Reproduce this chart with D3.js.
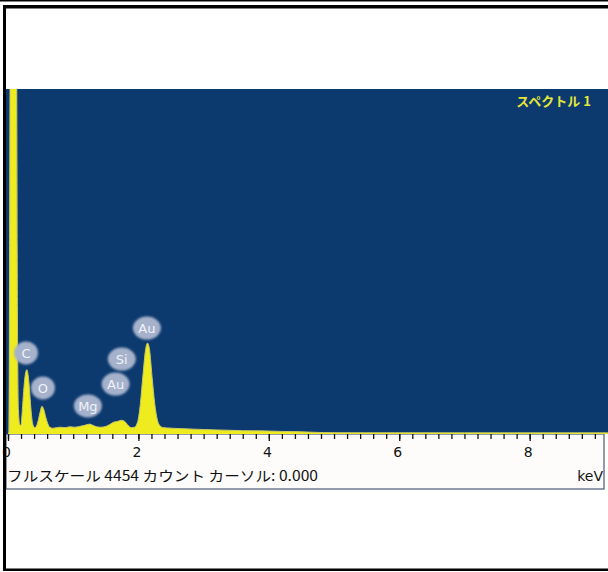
<!DOCTYPE html>
<html><head><meta charset="utf-8">
<script src="https://cdn.jsdelivr.net/npm/d3@7"></script>
<style>body{margin:0;background:#fff;overflow:hidden}svg{display:block}</style>
</head><body><svg id="c" width="608" height="572"></svg>
<script>
// ---- data ----
const energyKeV = [0.00,0.015,0.025,0.035,0.05,0.10,0.13,0.145,0.16,0.18,0.20,0.21,0.23,0.25,0.27,0.29,0.31,0.33,0.35,0.37,0.39,0.41,0.43,0.46,0.49,0.52,0.55,0.58,0.61,0.64,0.68,0.72,0.80,0.88,0.95,1.02,1.10,1.18,1.25,1.30,1.36,1.42,1.50,1.56,1.62,1.68,1.74,1.79,1.84,1.89,1.94,1.99,2.03,2.07,2.11,2.14,2.17,2.21,2.25,2.29,2.33,2.38,2.45,2.55,2.70,2.85,3.00,3.20,3.40,3.60,3.80,4.00,4.20,4.40,4.60,4.80,5.00,5.50,6.00,7.00,8.00,9.20];
const countsSeries = [0,0,2600,5200,5200,5200,5000,1500,300,110,100,180,420,640,780,820,740,560,330,160,90,70,80,150,260,345,300,200,120,75,62,65,75,70,80,75,85,100,115,100,80,75,85,110,140,150,165,150,100,70,75,150,380,750,1080,1165,1080,720,380,170,95,70,65,60,55,50,45,40,35,30,28,25,20,18,12,6,4,3,3,2,2,2];
const peakLabels = ["C","O","Mg","Au","Si","Au"];
const peakEnergy = [0.276,0.536,1.225,1.65,1.745,2.13];
const peakAnchorCounts = [790,337,104,388,712,1113];
const majorTicks = [0,2,4,6,8];
const fullScaleCounts = 4454;
const energyMax = 9.14;
const titleText = "スペクトル 1";
const footerText = "フルスケール 4454 カウント カーソル: 0.000";
const unitText = "keV";

// ---- drawing ----
const svg = d3.select("#c");
const font = "'Noto Sans CJK JP','DejaVu Sans',sans-serif";
const plot = {x0: 6, x1: 604, y0: 89, y1: 434};

const defs = svg.append("defs");
defs.append("filter").attr("id","soft").append("feGaussianBlur").attr("stdDeviation",0.8);
defs.append("clipPath").attr("id","clip").append("rect")
  .attr("x",plot.x0).attr("y",plot.y0).attr("width",608-plot.x0).attr("height",plot.y1-plot.y0);

// outer frame
svg.append("rect").attr("x",0).attr("y",0).attr("width",608).attr("height",1.5).attr("fill","#000");
svg.append("rect").attr("x",3).attr("y",5).attr("width",605).attr("height",3.5).attr("fill","#000");
svg.append("rect").attr("x",3).attr("y",568.5).attr("width",605).attr("height",2.5).attr("fill","#000");

// axis strip
svg.append("rect").attr("x",plot.x0).attr("y",plot.y1).attr("width",plot.x1-plot.x0).attr("height",55)
  .attr("fill","#fdfcfa").attr("stroke","#4a5a78").attr("stroke-width",1.2);

// plot background
svg.append("rect").attr("x",plot.x0).attr("y",plot.y0).attr("width",608-plot.x0).attr("height",plot.y1-plot.y0)
  .attr("fill","#0c3a6e");

const x = d3.scaleLinear().domain([0, energyMax]).range([8, plot.x1]);
const y = d3.scaleLinear().domain([0, fullScaleCounts]).range([plot.y1-1, plot.y0]);

const data = energyKeV.map((e,i)=>({e, c: countsSeries[i]}));
const area = d3.area().x(d=>x(d.e)).y0(plot.y1).y1(d=>y(d.c)).curve(d3.curveMonotoneX);
svg.append("path").datum(data).attr("clip-path","url(#clip)")
  .attr("d", area).attr("fill","#eeec1e");
svg.append("path").datum(data).attr("clip-path","url(#clip)")
  .attr("d", d3.line().x(d=>x(d.e)).y(d=>y(d.c)).curve(d3.curveMonotoneX))
  .attr("fill","none").attr("stroke","#c8c86a").attr("stroke-width",1);

// title
svg.append("text").attr("x",591).attr("y",106).attr("text-anchor","end")
  .attr("font-family",font).attr("font-size",13).attr("font-weight","bold")
  .attr("fill","#e6e63a").text(titleText);

// peak labels
const lab = svg.append("g");
peakLabels.forEach((t,i)=>{
  const px = x(peakEnergy[i]), py = y(peakAnchorCounts[i]);
  const cy = py - 19;
  lab.append("line").attr("x1",px).attr("x2",px).attr("y1",cy).attr("y2",py)
    .attr("stroke","#9eacc8").attr("stroke-width",3).attr("filter","url(#soft)");
  lab.append("ellipse").attr("cx",px).attr("cy",cy).attr("rx", t.length>1?14:12).attr("ry",11.5)
    .attr("fill","#a6b2cc").attr("filter","url(#soft)");
  lab.append("text").attr("x",px).attr("y",cy+5).attr("text-anchor","middle")
    .attr("font-family","'DejaVu Sans',sans-serif").attr("font-size",13).attr("fill","#f0f2f8").text(t);
});

// axis ticks
const minorTicks = d3.range(0, energyMax, 0.2);
const axMinor = d3.axisBottom(x).tickValues(minorTicks).tickSize(5).tickFormat("");
const gMinor = svg.append("g").attr("transform",`translate(0,${plot.y1})`).call(axMinor);
gMinor.select(".domain").remove();
gMinor.selectAll("line").attr("stroke","#111").attr("stroke-width",1.3);
const axMajor = d3.axisBottom(x).tickValues(majorTicks).tickSize(7).tickPadding(6).tickFormat(d3.format("d"));
const gMajor = svg.append("g").attr("transform",`translate(0,${plot.y1})`).call(axMajor);
gMajor.select(".domain").remove();
gMajor.selectAll("line").attr("stroke","#111").attr("stroke-width",1.3);
gMajor.selectAll("text").attr("font-family","'DejaVu Sans',sans-serif").attr("font-size",14)
  .attr("fill","#111").attr("dx",-2);

// left frame on top so "0" is cut like the original
svg.append("rect").attr("x",3).attr("y",5).attr("width",3).attr("height",566).attr("fill","#000");

// footer
svg.append("text").attr("x",7).attr("y",481).attr("font-family",font).attr("font-size",14)
  .attr("fill","#111").attr("textLength",311).attr("lengthAdjust","spacingAndGlyphs").text(footerText);
svg.append("text").attr("x",603).attr("y",481).attr("text-anchor","end").attr("font-family","'DejaVu Sans',sans-serif")
  .attr("font-size",14).attr("fill","#111").text(unitText);
</script></body></html>
